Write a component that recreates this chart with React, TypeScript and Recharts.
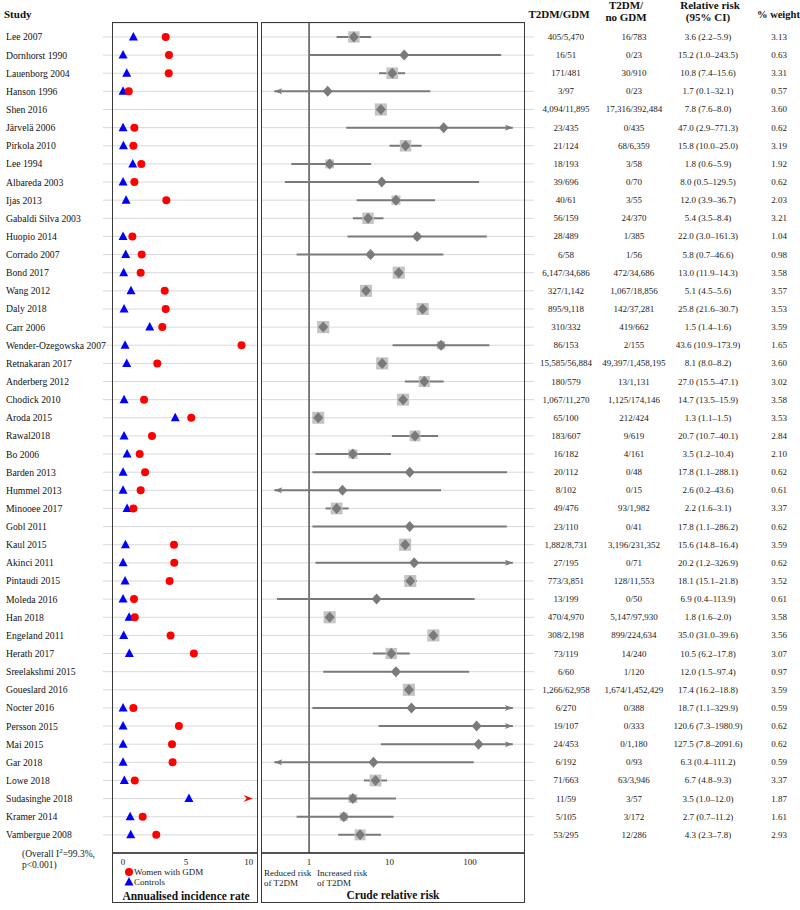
import React from "react";
import {
  ScatterChart,
  Scatter,
  XAxis,
  YAxis,
  CartesianGrid,
  ReferenceLine,
} from "recharts";

const STUDIES = [
  "Lee 2007", "Dornhorst 1990", "Lauenborg 2004", "Hanson 1996", "Shen 2016",
  "Järvelä 2006", "Pirkola 2010", "Lee 1994", "Albareda 2003", "Ijas 2013",
  "Gabaldi Silva 2003", "Huopio 2014", "Corrado 2007", "Bond 2017", "Wang 2012",
  "Daly 2018", "Carr 2006", "Wender-Ozegowska 2007", "Retnakaran 2017", "Anderberg 2012",
  "Chodick 2010", "Aroda 2015", "Rawal2018", "Bo 2006", "Barden 2013",
  "Hummel 2013", "Minooee 2017", "Gobl 2011", "Kaul 2015", "Akinci 2011",
  "Pintaudi 2015", "Moleda 2016", "Han 2018", "Engeland 2011", "Herath 2017",
  "Sreelakshmi 2015", "Goueslard 2016", "Nocter 2016", "Persson 2015", "Mai 2015",
  "Gar 2018", "Lowe 2018", "Sudasinghe 2018", "Kramer 2014", "Vambergue 2008",
];

// annualised incidence rate
const RATE_GDM = [
  3.39, 3.65, 3.63, 0.45, null, 0.9, 0.82, 1.45, 0.9, 3.44,
  null, 0.74, 1.48, 1.4, 3.31, 3.39, 3.12, 9.42, 2.72, null,
  1.67, 5.42, 2.3, 1.32, 1.75, 1.4, 0.82, null, 4.05, 4.07,
  3.7, 0.87, 0.93, 3.78, 5.63, null, null, 0.82, 4.44, 3.89,
  3.94, 0.93, 12, 1.56, 2.64,
];
const RATE_CTRL = [
  0.82, 0, 0.29, 0, null, 0, 0.03, 0.77, 0, 0.24,
  null, 0, 0.21, 0.05, 0.63, 0.08, 2.12, 0.16, 0.29, null,
  0.08, 4.15, 0.08, 0.32, 0, 0, 0.32, null, 0.19, 0,
  0.16, 0, 0.48, 0.05, 0.5, null, null, 0, 0, 0,
  0, 0.1, 5.24, 0.56, 0.61,
];

const RR = [
  3.6, 15.2, 10.8, 1.7, 7.8, 47.0, 15.8, 1.8, 8.0, 12.0,
  5.4, 22.0, 5.8, 13.0, 5.1, 25.8, 1.5, 43.6, 8.1, 27.0,
  14.7, 1.3, 20.7, 3.5, 17.8, 2.6, 2.2, 17.8, 15.6, 20.2,
  18.1, 6.9, 1.8, 35.0, 10.5, 12.0, 17.4, 18.7, 120.6, 127.5,
  6.3, 6.7, 3.5, 2.7, 4.3,
];
const LO = [
  2.2, 1.0, 7.4, 0.1, 7.6, 2.9, 10.0, 0.6, 0.5, 3.9,
  3.5, 3.0, 0.7, 11.9, 4.5, 21.6, 1.4, 10.9, 8.0, 15.5,
  13.5, 1.1, 10.7, 1.2, 1.1, 0.2, 1.6, 1.1, 14.8, 1.2,
  15.1, 0.4, 1.6, 31.0, 6.2, 1.5, 16.2, 1.1, 7.3, 7.8,
  0.4, 4.8, 1.0, 0.7, 2.3,
];
const HI = [
  5.9, 243.5, 15.6, 32.1, 8.0, 771.3, 25.0, 5.9, 129.5, 36.7,
  8.4, 161.3, 46.6, 14.3, 5.6, 30.7, 1.6, 173.9, 8.2, 47.1,
  15.9, 1.5, 40.1, 10.4, 288.1, 43.6, 3.1, 286.2, 16.4, 326.9,
  21.8, 113.9, 2.0, 39.6, 17.8, 97.4, 18.8, 329.9, 1980.9, 2091.6,
  111.2, 9.3, 12.0, 11.2, 7.8,
];
const WEIGHT = [
  3.13, 0.63, 3.31, 0.57, 3.6, 0.62, 3.19, 1.92, 0.62, 2.03,
  3.21, 1.04, 0.98, 3.58, 3.57, 3.53, 3.59, 1.65, 3.6, 3.02,
  3.58, 3.53, 2.84, 2.1, 0.62, 0.61, 3.37, 0.62, 3.59, 0.62,
  3.52, 0.61, 3.58, 3.56, 3.07, 0.97, 3.59, 0.59, 0.62, 0.62,
  0.59, 3.37, 1.87, 1.61, 2.93,
];
const T2DM_GDM = [
  "405/5,470", "16/51", "171/481", "3/97", "4,094/11,895",
  "23/435", "21/124", "18/193", "39/696", "40/61",
  "56/159", "28/489", "6/58", "6,147/34,686", "327/1,142",
  "895/9,118", "310/332", "86/153", "15,585/56,884", "180/579",
  "1,067/11,270", "65/100", "183/607", "16/182", "20/112",
  "8/102", "49/476", "23/110", "1,882/8,731", "27/195",
  "773/3,851", "13/199", "470/4,970", "308/2,198", "73/119",
  "6/60", "1,266/62,958", "6/270", "19/107", "24/453",
  "6/192", "71/663", "11/59", "5/105", "53/295",
];
const T2DM_NO_GDM = [
  "16/783", "0/23", "30/910", "0/23", "17,316/392,484",
  "0/435", "68/6,359", "3/58", "0/70", "3/55",
  "24/370", "1/385", "1/56", "472/34,686", "1,067/18,856",
  "142/37,281", "419/662", "2/155", "49,397/1,458,195", "13/1,131",
  "1,125/174,146", "212/424", "9/619", "4/161", "0/48",
  "0/15", "93/1,982", "0/41", "3,196/231,352", "0/71",
  "128/11,553", "0/50", "5,147/97,930", "899/224,634", "14/240",
  "1/120", "1,674/1,452,429", "0/388", "0/333", "0/1,180",
  "0/93", "63/3,946", "3/57", "3/172", "12/286",
];
const ARROW_LEFT = ["Hanson 1996", "Hummel 2013", "Gar 2018"];

const RATE_TICKS = [0, 5, 10];
const RR_TICKS = [1, 10, 100];

const FONT = '"Liberation Serif", "Times New Roman", serif';
const ROWS = STUDIES.map((_, i) => i);
const Y_DOMAIN = [-0.77, 45];
const RATE_MAX = 10.3;
const LO_CLIP = 0.37;
const HI_CLIP = 340;
const FX = 258; // page x of the forest svg

const gdmPts = RATE_GDM.map((v, i) => (v == null || v > RATE_MAX ? null : { x: v, y: i })).filter(Boolean);
const gdmOver = RATE_GDM.map((v, i) => (v != null && v > RATE_MAX ? { x: RATE_MAX, y: i } : null)).filter(Boolean);
const ctrlPts = RATE_CTRL.map((v, i) => (v == null ? null : { x: v, y: i })).filter(Boolean);

const forest = STUDIES.map((name, i) => ({
  y: i,
  x: RR[i],
  w: WEIGHT[i],
  lo: ARROW_LEFT.includes(name) ? LO_CLIP : LO[i],
  hi: HI[i] > 300 ? HI_CLIP : HI[i],
}));
const leftArrows = forest.filter((r) => r.lo === LO_CLIP).map((r) => ({ x: LO_CLIP, y: r.y }));
const rightArrows = forest.filter((r) => r.hi === HI_CLIP).map((r) => ({ x: HI_CLIP, y: r.y }));

const RedDot = (p: any) => <circle cx={p.cx} cy={p.cy} r={4} fill="#ff0000" />;
const BlueTri = (p: any) => (
  <polygon
    points={`${p.cx},${p.cy - 5} ${p.cx + 4.5},${p.cy + 3.5} ${p.cx - 4.5},${p.cy + 3.5}`}
    fill="#0000ff"
  />
);
const RedArrow = (p: any) => (
  <polygon
    points={`${p.cx},${p.cy} ${p.cx - 9},${p.cy - 3.5} ${p.cx - 6},${p.cy} ${p.cx - 9},${p.cy + 3.5}`}
    fill="#ff0000"
  />
);
const Square = (p: any) => {
  const s = 6.4 * Math.sqrt(p.payload.w);
  return <rect x={p.cx - s / 2} y={p.cy - s / 2} width={s} height={s} fill="#c4c4c4" />;
};
const Diamond = (p: any) => (
  <polygon
    points={`${p.cx},${p.cy - 5.5} ${p.cx + 5},${p.cy} ${p.cx},${p.cy + 5.5} ${p.cx - 5},${p.cy}`}
    fill="#7a7a7a"
  />
);
const ArrowL = (p: any) => (
  <polygon
    points={`${p.cx},${p.cy} ${p.cx + 8},${p.cy - 3} ${p.cx + 6},${p.cy} ${p.cx + 8},${p.cy + 3}`}
    fill="#7a7a7a"
  />
);
const ArrowR = (p: any) => (
  <polygon
    points={`${p.cx},${p.cy} ${p.cx - 8},${p.cy - 3} ${p.cx - 6},${p.cy} ${p.cx - 8},${p.cy + 3}`}
    fill="#7a7a7a"
  />
);

function StudyTick({ y, payload }: any) {
  return (
    <text x={6} y={y} dy={3.5} fontSize={9.7} fontFamily={FONT} fill="#111" textAnchor="start">
      {STUDIES[payload.value]}
    </text>
  );
}

function TableTick({ y, payload }: any) {
  const i = payload.value;
  const t = { fontSize: 9, fontFamily: FONT, fill: "#222", textAnchor: "middle" as const, dy: 3 };
  return (
    <g>
      <text x={566 - FX} y={y} {...t}>{T2DM_GDM[i]}</text>
      <text x={634 - FX} y={y} {...t}>{T2DM_NO_GDM[i]}</text>
      <text x={708 - FX} y={y} {...t}>
        {`${RR[i].toFixed(1)} (${LO[i].toFixed(1)}–${HI[i].toFixed(1)})`}
      </text>
      <text x={779 - FX} y={y} {...t}>{WEIGHT[i].toFixed(2)}</text>
    </g>
  );
}

const tickStyle = { fontSize: 9, fontFamily: FONT, fill: "#222" };
const boxStyle = (left: number, width: number): React.CSSProperties => ({
  position: "absolute",
  left,
  top: 22,
  width,
  height: 881,
  border: "1.5px solid #3a3a3a",
  boxSizing: "border-box",
  pointerEvents: "none",
});

export default function App() {
  return (
    <div
      style={{
        position: "absolute",
        left: 0,
        top: 0,
        width: 800,
        height: 910,
        background: "#fff",
        overflow: "hidden",
      }}
    >
      <div style={{ position: "absolute", left: 0, top: 0 }}>
        <ScatterChart width={262} height={910} margin={{ top: 23, right: 5, bottom: 27, left: 0 }}>
          <CartesianGrid horizontal vertical={false} stroke="#d9d9d9" />
          <XAxis
            type="number"
            dataKey="x"
            domain={[-0.8, 10.65]}
            allowDataOverflow
            ticks={RATE_TICKS}
            tickLine={false}
            tickSize={4}
            axisLine={{ stroke: "#222", strokeWidth: 1.5 }}
            tick={tickStyle}
            height={30}
          />
          <YAxis
            type="number"
            dataKey="y"
            domain={Y_DOMAIN}
            reversed
            allowDataOverflow
            ticks={ROWS}
            interval={0}
            width={113}
            tickSize={10}
            tickLine={{ stroke: "#d9d9d9" }}
            axisLine={false}
            tick={StudyTick}
          />
          <Scatter data={ctrlPts} shape={BlueTri} isAnimationActive={false} />
          <Scatter data={gdmPts} shape={RedDot} isAnimationActive={false} />
          <Scatter data={gdmOver} shape={RedArrow} isAnimationActive={false} />
        </ScatterChart>
      </div>

      <div style={{ position: "absolute", left: FX, top: 0 }}>
        <ScatterChart width={542} height={910} margin={{ top: 23, right: 0, bottom: 27, left: 4 }}>
          <CartesianGrid horizontal vertical={false} stroke="#d9d9d9" />
          <XAxis
            type="number"
            dataKey="x"
            scale="log"
            domain={[0.26, 468]}
            allowDataOverflow
            ticks={RR_TICKS}
            tickLine={false}
            tickSize={4}
            axisLine={{ stroke: "#222", strokeWidth: 1.5 }}
            tick={tickStyle}
            height={30}
          />
          <YAxis
            type="number"
            dataKey="y"
            orientation="right"
            domain={Y_DOMAIN}
            reversed
            allowDataOverflow
            ticks={ROWS}
            interval={0}
            width={276}
            tickSize={10}
            tickLine={{ stroke: "#d9d9d9" }}
            axisLine={false}
            tick={TableTick}
          />
          <ReferenceLine x={1} stroke="#555" strokeWidth={1.5} />
          {forest.map((r) => (
            <ReferenceLine
              key={r.y}
              segment={[
                { x: r.lo, y: r.y },
                { x: r.hi, y: r.y },
              ]}
              stroke="#7a7a7a"
              strokeWidth={2}
            />
          ))}
          <Scatter data={forest} shape={Square} isAnimationActive={false} />
          <Scatter data={forest} shape={Diamond} isAnimationActive={false} />
          <Scatter data={leftArrows} shape={ArrowL} isAnimationActive={false} />
          <Scatter data={rightArrows} shape={ArrowR} isAnimationActive={false} />
        </ScatterChart>
      </div>

      <div style={boxStyle(112, 146)} />
      <div style={boxStyle(261, 264)} />

      <svg
        width={800}
        height={910}
        style={{ position: "absolute", left: 0, top: 0, pointerEvents: "none" }}
        fontFamily={FONT}
      >
        <g fontWeight="bold" fontSize={11} fill="#111">
          <text x={4} y={18}>Study</text>
          <text x={559} y={18} textAnchor="middle">T2DM/GDM</text>
          <text x={626} y={9} textAnchor="middle">T2DM/</text>
          <text x={626} y={21} textAnchor="middle">no GDM</text>
          <text x={710} y={9} textAnchor="middle">Relative risk</text>
          <text x={708} y={21} textAnchor="middle">(95% CI)</text>
          <text x={757} y={18} fontSize={10.5}>% weight</text>
        </g>

        <g fontSize={9.5} fill="#222">
          <text x={22} y={857}>
            (Overall I<tspan dy={-4} fontSize={7}>2</tspan>
            <tspan dy={4}>=99.3%,</tspan>
          </text>
          <text x={22} y={868}>p&lt;0.001)</text>
        </g>

        <circle cx={129} cy={872} r={4} fill="#ff0000" />
        <polygon points="129,877 133.5,885.5 124.5,885.5" fill="#0000ff" />
        <g fontSize={9} fill="#222">
          <text x={134} y={875}>Women with GDM</text>
          <text x={134} y={885}>Controls</text>
          <text x={264} y={876}>Reduced risk</text>
          <text x={264} y={886}>of T2DM</text>
          <text x={317} y={876}>Increased risk</text>
          <text x={317} y={886}>of T2DM</text>
        </g>
        <g fontWeight="bold" fontSize={11.5} fill="#111" textAnchor="middle">
          <text x={186} y={900}>Annualised incidence rate</text>
          <text x={393} y={899}>Crude relative risk</text>
        </g>
      </svg>
    </div>
  );
}
